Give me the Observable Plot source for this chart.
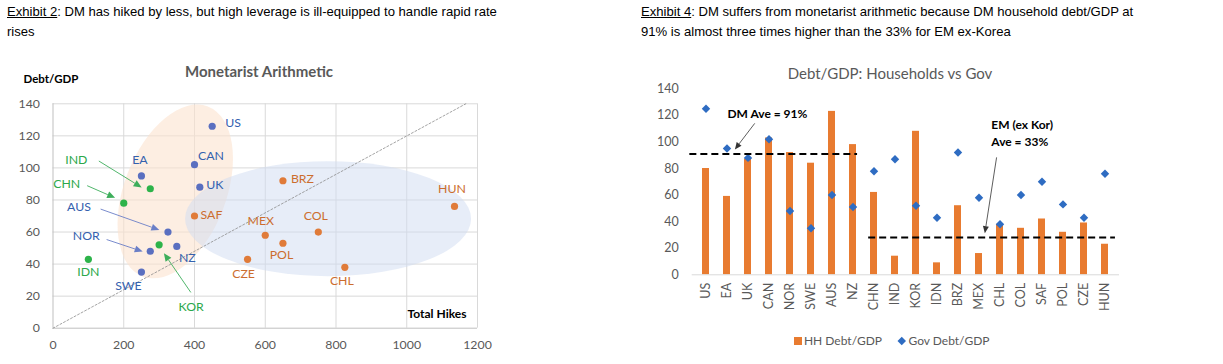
<!DOCTYPE html>
<html><head><meta charset="utf-8">
<script src="https://cdn.jsdelivr.net/npm/d3@7"></script>
<script src="https://cdn.jsdelivr.net/npm/@observablehq/plot@0.6"></script>
<style>
body{margin:0;background:#fff;width:1223px;height:364px;overflow:hidden;position:relative;font-family:"Liberation Sans",Arial,sans-serif}
.hdr{position:absolute;font-size:13.1px;line-height:19.5px;color:#000;white-space:nowrap}
.t{position:absolute;transform:translate(-50%,-50%);white-space:nowrap;line-height:1;font-family:Lato,sans-serif}
.abs{position:absolute}
</style></head><body>
<div class="hdr" style="left:7px;top:2px"><u>Exhibit 2</u>: DM has hiked by less, but high leverage is ill-equipped to handle rapid rate<br>rises</div>
<div class="hdr" style="left:641px;top:2px"><u>Exhibit 4</u>: DM suffers from monetarist arithmetic because DM household debt/GDP at<br>91% is almost three times higher than the 33% for EM ex-Korea</div>
<div id="left" class="abs" style="left:0;top:55px"></div>
<div id="right" class="abs" style="left:610px;top:55px"></div>
<div id="rightover" class="abs" style="left:610px;top:55px"></div>
<div class="t" style="left:259px;top:71px;font-size:15px;font-weight:bold;color:#595959">Monetarist Arithmetic</div>
<div class="t" style="left:51px;top:79px;font-size:11.5px;font-weight:bold;color:#000">Debt/GDP</div>
<div class="t" style="left:437px;top:314px;font-size:12px;font-weight:bold;color:#000">Total Hikes</div>
<div class="t" style="left:890px;top:73px;font-size:15px;color:#595959">Debt/GDP: Households vs Gov</div>
<div class="abs" style="left:794px;top:337px;width:7.5px;height:7.5px;background:#E87B30"></div>
<div class="t" style="left:843px;top:341px;font-size:12px;color:#595959">HH Debt/GDP</div>
<div class="abs" style="left:899px;top:338px;width:5.5px;height:5.5px;background:#2E6CC2;transform:rotate(45deg)"></div>
<div class="t" style="left:949px;top:341px;font-size:12px;color:#595959">Gov Debt/GDP</div>
<script>
// ---------- Exhibit 2 data ----------
const scatterNames = ["US","EA","CAN","UK","AUS","NZ","NOR","SWE","IND","CHN","KOR","IDN","SAF","MEX","POL","CZE","BRZ","COL","CHL","HUN"];
const scatterHikes = [450,250,400,415,325,350,275,250,275,200,300,100,400,600,650,550,650,750,825,1135];
const scatterDebt  = [126,95,102,88,60,51,48,35,87,78,52,43,70,58,53,43,92,60,38,76];
const scatterGroup = ["DM","DM","DM","DM","DM","DM","DM","DM","Asia","Asia","Asia","Asia","EM","EM","EM","EM","EM","EM","EM","EM"];
const hikeTicks = [0,200,400,600,800,1000,1200];
const debtTicks = [0,20,40,60,80,100,120,140];
// label offsets (layout, px)
const labelOffsets = [[21,-3],[-1.5,-16],[16.5,-9],[15,-2],[-89,-25],[10.5,12],[-64,-15],[-13,14],[-74,-29],[-57,-19],[32,62],[0,13],[17,-1],[-4.5,-14],[-1.5,12],[-4,15],[19.5,-2],[-2.5,-16],[-3,14],[-2.5,-17]];
// annotation arrows (data units)
const arrowNames = ["IND","CHN","AUS","NOR","KOR"];
const arrowFromX = [131,98,136,153,391];
const arrowFromY = [104,88.6,74,55,22];
const arrowToX = [252,177,302,255,315];
const arrowToY = [87.5,81,61,47.5,46.5];
const diagX = [0,1167];
const diagY = [0,140];

// ---------- Exhibit 4 data ----------
const barCountries = ["US","EA","UK","CAN","NOR","SWE","AUS","NZ","CHN","IND","KOR","IDN","BRZ","MEX","CHL","COL","SAF","POL","CZE","HUN"];
const hhDebt  = [80,59,87,103,92,84,123,98,62,14,108,9,52,16,38,35,42,32,39,23];
const govDebt = [125,95,88,102,48,35,60,51,78,87,52,43,92,58,38,60,70,53,43,76];
const barTicks = [0,20,40,60,80,100,120,140];
const avgLabels = ["DM Ave = 91%","EM (ex Kor)\nAve = 33%"];
const avgValues = [91,28];

const colors = {DM:"#5A6FC0", Asia:"#2DB34A", EM:"#E07B39"};
const labelColors = {DM:"#3461AE", Asia:"#2CA84A", EM:"#CC6D2E"};
const arrowColors = {IND:"#3DAE5B", CHN:"#3DAE5B", KOR:"#3DAE5B", AUS:"#6B7FC7", NOR:"#6B7FC7"};

function fx(scales){ return typeof scales.x === "function" ? scales.x : scales.scales.x.scale; }
function fy(scales){ return typeof scales.y === "function" ? scales.y : scales.scales.y.scale; }

function arrowMark(list, width, head, headW) {
  return (index, scales) => {
    const sx = fx(scales), sy = fy(scales);
    const g = d3.create("svg:g");
    for (const a of list) {
      const x1 = sx(a.x1), y1 = sy(a.y1), x2 = sx(a.x2), y2 = sy(a.y2);
      const dx = x2 - x1, dy = y2 - y1, L = Math.hypot(dx, dy), ux = dx / L, uy = dy / L;
      const bx = x2 - ux * head, by = y2 - uy * head;
      g.append("line").attr("x1", x1).attr("y1", y1).attr("x2", bx).attr("y2", by)
        .attr("stroke", a.color).attr("stroke-width", width);
      g.append("path").attr("d", `M${x2},${y2}L${bx - uy * headW},${by + ux * headW}L${bx + uy * headW},${by - ux * headW}Z`)
        .attr("fill", a.color);
    }
    return g.node();
  };
}

function ellipseMark(list) {
  return (index, scales) => {
    const sx = fx(scales), sy = fy(scales);
    const g = d3.create("svg:g");
    for (const e of list) {
      g.append("ellipse").attr("rx", e.rx).attr("ry", e.ry)
        .attr("transform", `translate(${sx(e.cx)},${sy(e.cy)}) rotate(${e.rot})`)
        .attr("fill", e.fill).attr("fill-opacity", e.op);
    }
    return g.node();
  };
}

// ---------- left chart ----------
const pts = scatterNames.map((n, i) => ({name: n, hikes: scatterHikes[i], debt: scatterDebt[i], group: scatterGroup[i]}));
const arrows = arrowNames.map((n, i) => ({x1: arrowFromX[i], y1: arrowFromY[i], x2: arrowToX[i], y2: arrowToY[i], color: arrowColors[n]}));
const diag = diagX.map((x, i) => ({x, y: diagY[i]}));
const ellipses = [
  {cx: 347, cy: 85, rx: 51, ry: 91, rot: 21, fill: "#FBE3CE", op: 0.6},
  {cx: 779, cy: 68, rx: 143, ry: 57.5, rot: 0, fill: "#D0DCF2", op: 0.5}
];

const left = Plot.plot({
  width: 500, height: 305,
  marginLeft: 52.5, marginRight: 23, marginTop: 48.3, marginBottom: 32.3,
  style: {fontFamily: "Lato, sans-serif", fontSize: "12px", color: "#595959", background: "transparent", overflow: "visible"},
  x: {domain: [0, 1200], label: null},
  y: {domain: [0, 140], label: null},
  marks: [
    Plot.gridX(hikeTicks.slice(1), {stroke: "#d9d9d9", strokeOpacity: 1}),
    Plot.gridY(debtTicks.slice(1), {stroke: "#d9d9d9", strokeOpacity: 1}),
    ellipseMark(ellipses),
    Plot.ruleX([0], {stroke: "#bfbfbf"}),
    Plot.ruleY([0], {stroke: "#bfbfbf"}),
    Plot.axisX(hikeTicks, {tickSize: 0, tickPadding: 12, label: null, fill: "#595959", fontSize: 12.3, tickFormat: d => String(d)}),
    Plot.axisY(debtTicks, {tickSize: 0, tickPadding: 13, label: null, fill: "#595959", fontSize: 12.3, tickFormat: d => String(d)}),
    Plot.line(diag, {x: "x", y: "y", stroke: "#8c8c8c", strokeWidth: 0.8, strokeDasharray: "2,2"}),
    arrowMark(arrows, 0.9, 8, 3.5),
    Plot.dot(pts, {x: "hikes", y: "debt", r: 3.6, fill: d => colors[d.group], stroke: "none"}),
    ...pts.map((p, i) => Plot.text([p], {x: "hikes", y: "debt", text: "name", dx: labelOffsets[i][0], dy: labelOffsets[i][1], fill: labelColors[p.group], fontSize: 12.3}))
  ]
});
document.getElementById("left").appendChild(left);

// ---------- right chart ----------
const rows = barCountries.map((c, i) => ({country: c, hh: hhDebt[i], gov: govDebt[i]}));
const dims = {width: 613, height: 305, marginLeft: 81.7, marginRight: 104, marginTop: 33.3, marginBottom: 85.7};
const right = Plot.plot({
  ...dims,
  style: {fontFamily: "Lato, sans-serif", fontSize: "12px", color: "#595959", background: "transparent", overflow: "visible"},
  x: {domain: barCountries, paddingInner: 0.65, paddingOuter: 0.325, label: null},
  y: {domain: [0, 140], label: null},
  marks: [
    Plot.barY(rows, {x: "country", y: "hh", fill: "#E87B30"}),
    Plot.ruleY([0], {stroke: "#d9d9d9"}),
    Plot.dot(rows, {x: "country", y: "gov", symbol: "diamond2", r: 3.8, fill: "#2E6CC2", stroke: "none"}),
    Plot.axisY(barTicks, {tickSize: 0, tickPadding: 13.4, label: null, fill: "#595959", fontSize: 12.5, tickFormat: d => String(d)}),
    Plot.axisX({tickSize: 0, tickRotate: -90, tickPadding: 8, label: null, fill: "#595959", fontSize: 12.5})
  ]
});
document.getElementById("right").appendChild(right);

// overlay with category-index coordinates for annotations
const avgRules = [
  {x1: -0.61, x2: 7.24, y: avgValues[0]},
  {x1: 7.76, x2: 19.31, y: avgValues[1]}
];
const annots = [
  {x: 3.02, y: 121, text: avgLabels[0], anchor: "middle"},
  {x: 13.5, y: 107.3, text: avgLabels[1], anchor: "start"}
];
const annArrows = [
  {x1: 2.45, y1: 113.6, x2: 1.52, y2: 94, color: "#333"},
  {x1: 13.77, y1: 88, x2: 13.22, y2: 30.9, color: "#333"}
];
const over = Plot.plot({
  ...dims,
  style: {fontFamily: "Lato, sans-serif", fontSize: "12px", background: "transparent", overflow: "visible"},
  x: {domain: [-0.5, 19.5], axis: null},
  y: {domain: [0, 140], axis: null},
  marks: [
    Plot.ruleY(avgRules, {y: "y", x1: "x1", x2: "x2", stroke: "#000", strokeWidth: 2, strokeDasharray: "7,4"}),
    arrowMark(annArrows, 0.8, 7, 3),
    Plot.text(annots.filter(d => d.anchor === "middle"), {x: "x", y: "y", text: "text", textAnchor: "middle", fontWeight: "bold", fill: "#000", fontSize: 12}),
    Plot.text(annots.filter(d => d.anchor === "start"), {x: "x", y: "y", text: "text", textAnchor: "start", fontWeight: "bold", fill: "#000", fontSize: 12, lineHeight: 1.39})
  ]
});
document.getElementById("rightover").appendChild(over);
</script>
</body></html>
